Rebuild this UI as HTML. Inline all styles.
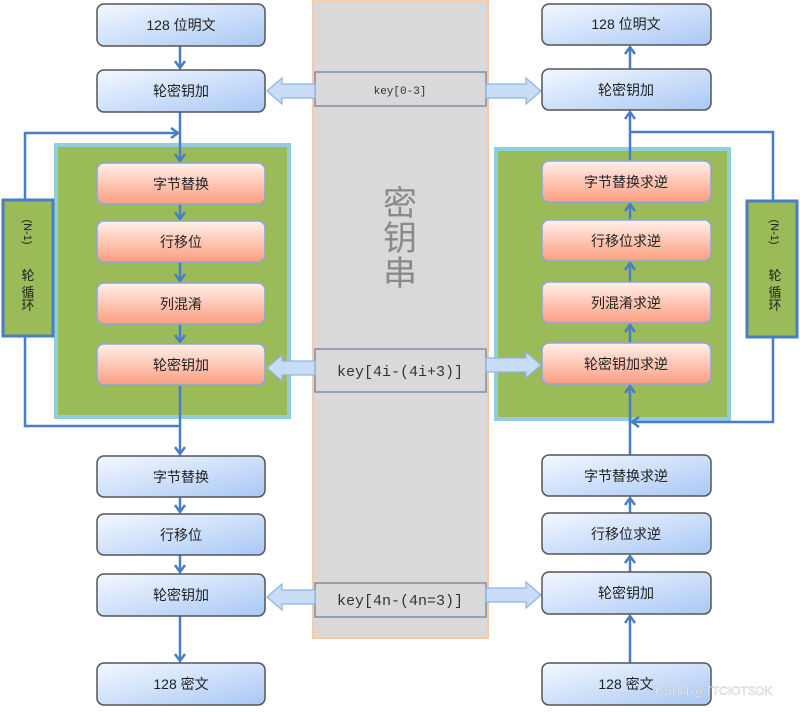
<!DOCTYPE html>
<html><head><meta charset="utf-8"><style>
body{margin:0;background:#fff}
text{font-family:"Liberation Sans","Noto Sans CJK SC",sans-serif}
</style></head><body>
<svg width="800" height="707" viewBox="0 0 800 707" xmlns="http://www.w3.org/2000/svg">
<defs>
<linearGradient id="b" x1="0" y1="0" x2="1" y2="1"><stop offset="0" stop-color="#f4f8ff"/><stop offset="1" stop-color="#a9c8f5"/></linearGradient>
<linearGradient id="r" x1="0" y1="0" x2="0" y2="1"><stop offset="0" stop-color="#fff0ea"/><stop offset="1" stop-color="#fb9e80"/></linearGradient>
<marker id="a" markerWidth="12" markerHeight="12" refX="9" refY="6" orient="auto" markerUnits="userSpaceOnUse"><path d="M2,1 L9,6 L2,11" fill="none" stroke="#4a7ec4" stroke-width="2.5"/></marker>
</defs>
<!-- center column -->
<rect x="313" y="0" width="175" height="638" fill="#d9d9d9" stroke="#f9c9a3" stroke-width="2"/>
<text x="400" y="215" font-size="34" fill="#8a8a8a" text-anchor="middle">密</text>
<text x="400" y="250" font-size="34" fill="#8a8a8a" text-anchor="middle">钥</text>
<text x="400" y="285" font-size="34" fill="#8a8a8a" text-anchor="middle">串</text>
<g fill="#d9d9d9" stroke="#7d8ea8" stroke-width="1.5">
<rect x="315" y="72" width="171" height="34"/>
<rect x="315" y="349" width="171" height="43"/>
<rect x="315" y="583" width="171" height="34"/>
</g>
<g fill="#333" text-anchor="middle">
<text x="400" y="94" font-size="11" style="font-family:'Liberation Mono',monospace">key[0-3]</text>
<text x="400" y="376" font-size="15" style="font-family:'Liberation Mono',monospace">key[4i-(4i+3)]</text>
<text x="400" y="605" font-size="15" style="font-family:'Liberation Mono',monospace">key[4n-(4n=3)]</text>
</g>
<!-- green boxes -->
<rect x="56" y="145" width="233" height="272" fill="#9bbb59" stroke="#92cddc" stroke-width="4"/>
<rect x="496" y="149" width="233" height="270" fill="#9bbb59" stroke="#92cddc" stroke-width="4"/>
<!-- hollow arrows -->
<g fill="#c8dcf6" stroke="#8fb4e3" stroke-width="1.2">
<path d="M315,84 L282,84 L282,78 L267,91 L282,104 L282,98 L315,98 Z"/>
<path d="M315,361 L282,361 L282,355 L267,368 L282,381 L282,375 L315,375 Z"/>
<path d="M315,590 L282,590 L282,584 L267,597 L282,610 L282,604 L315,604 Z"/>
<path d="M486,84 L526,84 L526,78 L541,91 L526,104 L526,98 L486,98 Z"/>
<path d="M486,358 L526,358 L526,352 L541,365 L526,378 L526,372 L486,372 Z"/>
<path d="M486,588 L526,588 L526,582 L541,595 L526,608 L526,602 L486,602 Z"/>
</g>
<!-- lines -->
<g stroke="#4a7ec4" stroke-width="2.5" fill="none">
<line x1="180" y1="46" x2="180" y2="68" marker-end="url(#a)"/>
<line x1="180" y1="112" x2="180" y2="161" marker-end="url(#a)"/>
<polyline points="25,200 25,133 178,133" marker-end="url(#a)"/>
<line x1="180" y1="204" x2="180" y2="219" marker-end="url(#a)"/>
<line x1="180" y1="262" x2="180" y2="281" marker-end="url(#a)"/>
<line x1="180" y1="324" x2="180" y2="342" marker-end="url(#a)"/>
<polyline points="25,336 25,426 180,426"/>
<line x1="180" y1="385" x2="180" y2="454" marker-end="url(#a)"/>
<line x1="180" y1="497" x2="180" y2="512" marker-end="url(#a)"/>
<line x1="180" y1="555" x2="180" y2="572" marker-end="url(#a)"/>
<line x1="180" y1="616" x2="180" y2="661" marker-end="url(#a)"/>
<line x1="630" y1="663" x2="630" y2="616" marker-end="url(#a)"/>
<line x1="630" y1="572" x2="630" y2="556" marker-end="url(#a)"/>
<line x1="630" y1="513" x2="630" y2="498" marker-end="url(#a)"/>
<line x1="630" y1="455" x2="630" y2="386" marker-end="url(#a)"/>
<polyline points="773,337 773,422 632,422" marker-end="url(#a)"/>
<line x1="630" y1="343" x2="630" y2="325" marker-end="url(#a)"/>
<line x1="630" y1="282" x2="630" y2="263" marker-end="url(#a)"/>
<line x1="630" y1="220" x2="630" y2="204" marker-end="url(#a)"/>
<line x1="630" y1="161" x2="630" y2="112" marker-end="url(#a)"/>
<polyline points="630,132 773,132 773,200"/>
<line x1="630" y1="69" x2="630" y2="47" marker-end="url(#a)"/>
</g>
<!-- side loop boxes -->
<rect x="3" y="200" width="50" height="136" fill="#9bbb59" stroke="#4a7ec4" stroke-width="3"/>
<rect x="747" y="201" width="50" height="136" fill="#9bbb59" stroke="#4a7ec4" stroke-width="3"/>
<g font-size="11" fill="#222" text-anchor="middle">
<text transform="translate(24,232) rotate(90)">(N-1)</text>
<text x="28" y="280" font-size="13">轮</text>
<text x="28" y="297" font-size="13">循</text>
<text x="28" y="310" font-size="13">环</text>
<text transform="translate(771,232) rotate(90)">(N-1)</text>
<text x="775" y="280" font-size="13">轮</text>
<text x="775" y="297" font-size="13">循</text>
<text x="775" y="310" font-size="13">环</text>
</g>
<!-- blue boxes -->
<g fill="url(#b)" stroke="#555" stroke-width="1.5">
<rect x="97" y="4" width="168" height="42" rx="7"/>
<rect x="97" y="70" width="168" height="42" rx="7"/>
<rect x="97" y="456" width="168" height="41" rx="7"/>
<rect x="97" y="514" width="168" height="41" rx="7"/>
<rect x="97" y="574" width="168" height="42" rx="7"/>
<rect x="97" y="663" width="168" height="42" rx="7"/>
<rect x="542" y="4" width="169" height="41" rx="7"/>
<rect x="542" y="69" width="169" height="41" rx="7"/>
<rect x="542" y="455" width="169" height="41" rx="7"/>
<rect x="542" y="513" width="169" height="41" rx="7"/>
<rect x="542" y="572" width="169" height="42" rx="7"/>
<rect x="542" y="663" width="169" height="42" rx="7"/>
</g>
<g fill="url(#r)" stroke="#8fa6d8" stroke-width="1.5">
<rect x="97" y="163" width="168" height="41" rx="7"/>
<rect x="97" y="221" width="168" height="41" rx="7"/>
<rect x="97" y="283" width="168" height="41" rx="7"/>
<rect x="97" y="344" width="168" height="41" rx="7"/>
<rect x="542" y="161" width="169" height="41" rx="7"/>
<rect x="542" y="220" width="169" height="41" rx="7"/>
<rect x="542" y="282" width="169" height="41" rx="7"/>
<rect x="542" y="343" width="169" height="41" rx="7"/>
</g>
<g font-size="14" fill="#222" text-anchor="middle">
<text x="181" y="30">128 位明文</text>
<text x="181" y="96">轮密钥加</text>
<text x="181" y="189">字节替换</text>
<text x="181" y="247">行移位</text>
<text x="181" y="309">列混淆</text>
<text x="181" y="370">轮密钥加</text>
<text x="181" y="482">字节替换</text>
<text x="181" y="540">行移位</text>
<text x="181" y="600">轮密钥加</text>
<text x="181" y="689">128 密文</text>
<text x="626" y="29">128 位明文</text>
<text x="626" y="95">轮密钥加</text>
<text x="626" y="187">字节替换求逆</text>
<text x="626" y="246">行移位求逆</text>
<text x="626" y="308">列混淆求逆</text>
<text x="626" y="369">轮密钥加求逆</text>
<text x="626" y="481">字节替换求逆</text>
<text x="626" y="539">行移位求逆</text>
<text x="626" y="598">轮密钥加</text>
<text x="626" y="689">128 密文</text>
</g>
<text x="655" y="695" font-size="12" fill="#ffffff" stroke="#aaa" stroke-width="0.3">CSDN @TTCIOTSDK</text>
</svg>
</body></html>
